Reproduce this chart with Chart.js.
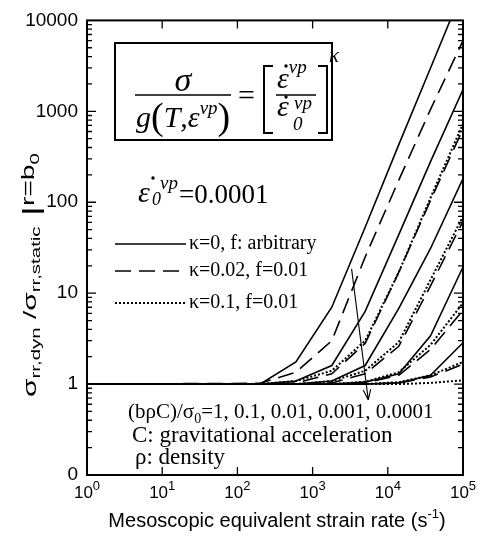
<!DOCTYPE html>
<html>
<head>
<meta charset="utf-8">
<script src="https://cdn.jsdelivr.net/npm/chart.js@4.4.1/dist/chart.umd.min.js"></script>
<style>
  html, body { margin: 0; padding: 0; background: #fff; }
  #c { display: block; }
</style>
</head>
<body>
<canvas id="c" width="481" height="537"></canvas>
<script>
// strain rates (s-1) where the curves were sampled
const strainRates = [1, 200, 600, 1800, 5000, 14000, 37000, 100000];

// kappa = 0, f arbitrary (solid), one per (b rho C)/sigma0
const solid1 = [1, 1, 1.75, 7, 53, 430, 3000, 22000];
const solid2 = [1, 1, 1.08, 1.6, 6.3, 44, 280, 1730];
const solid3 = [1, 1, 1, 1.08, 1.6, 6.8, 31, 182];
const solid4 = [1, 1, 1, 1, 1.05, 1.3, 3.4, 19.4];
const solid5 = [1, 1, 1, 1, 1, 1.03, 1.25, 2.85];

// kappa = 0.02, f = 0.01 (dashed)
const dashed1 = [1, 1.02, 1.35, 3.0, 25, 175, 1050, 6000];
const dashed2 = [1, 1, 1.03, 1.3, 2.8, 17, 105, 640];
const dashed3 = [1, 1, 1, 1.03, 1.3, 2.6, 12, 62];
const dashed4 = [1, 1, 1, 1, 1.03, 1.25, 2.4, 6.5];
const dashed5 = [1, 1, 1, 1, 1, 1.03, 1.2, 1.65];

// kappa = 0.1, f = 0.01 (dotted)
const dotted1 = [1, 1, 1.08, 1.4, 3, 17, 112, 730];
const dotted2 = [1, 1, 1, 1.08, 1.4, 2.9, 14, 70];
const dotted3 = [1, 1, 1, 1, 1.06, 1.35, 2.7, 7.8];
const dotted4 = [1, 1, 1, 1, 1, 1.05, 1.25, 1.75];
const dotted5 = [1, 1, 1, 1, 1, 1, 1.03, 1.1];

const yTickValues = [0.1, 1, 10, 100, 1000, 10000];
const yTickLabels = ['0', '1', '10', '100', '1000', '10000'];
const xTickExponents = [0, 1, 2, 3, 4, 5];
const groundRatios = ['1', '0.1', '0.01', '0.001', '0.0001'];

// arrow through the curves, (rate, ratio)
const arrowFrom = [3300, 18.5];
const arrowTo = [5500, 0.67];

const SERIF = '"Liberation Serif", "DejaVu Serif", serif';
const SANS = '"Liberation Sans", Arial, sans-serif';
const DASH = [16, 8];
const DOT = [2, 2];

function line(values, dash, width) {
  return {
    data: strainRates.map((x, i) => ({ x: x, y: values[i] })),
    borderColor: '#000',
    borderWidth: width,
    borderDash: dash,
    pointRadius: 0,
    tension: 0,
    fill: false
  };
}

const datasets = [
  ...[solid1, solid2, solid3, solid4, solid5].map(v => line(v, [], 1.6)),
  ...[dashed1, dashed2, dashed3, dashed4, dashed5].map(v => line(v, DASH, 1.6)),
  ...[dotted1, dotted2, dotted3, dotted4, dotted5].map(v => line(v, DOT, 2))
];

// draw a run of [text, font, dy] pieces starting at x
function runs(ctx, parts, x, y) {
  parts.forEach(p => {
    ctx.font = p[1];
    ctx.fillText(p[0], x, y + (p[2] || 0));
    x += ctx.measureText(p[0]).width;
  });
  return x;
}

function dot(ctx, x, y) {
  ctx.beginPath();
  ctx.arc(x, y, 1.7, 0, Math.PI * 2);
  ctx.fill();
}

const decor = {
  id: 'decor',
  afterDatasetsDraw(chart) {
    const ctx = chart.ctx;
    const a = chart.chartArea;
    const xs = chart.scales.x, ys = chart.scales.y;
    ctx.save();
    ctx.strokeStyle = '#000';
    ctx.fillStyle = '#000';
    ctx.setLineDash([]);

    // frame
    ctx.lineWidth = 2;
    ctx.strokeRect(a.left, a.top, a.right - a.left, a.bottom - a.top);

    // inward ticks
    ctx.lineWidth = 1.3;
    ctx.beginPath();
    for (let d = 0.1; d < 10000; d *= 10) {
      for (let m = 1; m <= 9; m++) {
        const y = ys.getPixelForValue(d * m);
        const len = m === 1 ? 9 : 5;
        ctx.moveTo(a.left, y); ctx.lineTo(a.left + len, y);
        ctx.moveTo(a.right, y); ctx.lineTo(a.right - len, y);
      }
    }
    xTickExponents.forEach(e => {
      const x = xs.getPixelForValue(Math.pow(10, e));
      ctx.moveTo(x, a.bottom); ctx.lineTo(x, a.bottom - 8);
      ctx.moveTo(x, a.top); ctx.lineTo(x, a.top + 8);
    });
    ctx.stroke();

    // x tick labels 10^n
    ctx.textBaseline = 'alphabetic';
    xTickExponents.forEach(e => {
      const x = xs.getPixelForValue(Math.pow(10, e));
      ctx.font = '17px ' + SANS;
      const w1 = ctx.measureText('10').width;
      ctx.font = '13px ' + SANS;
      const w2 = ctx.measureText(String(e)).width;
      runs(ctx, [['10', '17px ' + SANS, 0], [String(e), '13px ' + SANS, -8]], x - (w1 + w2) / 2, 498);
    });

    // x axis title
    ctx.font = '20px ' + SANS;
    const t1 = 'Mesoscopic equivalent strain rate (s';
    const wA = ctx.measureText(t1).width;
    ctx.font = '13px ' + SANS;
    const wB = ctx.measureText('-1').width;
    ctx.font = '20px ' + SANS;
    const wC = ctx.measureText(')').width;
    runs(ctx, [[t1, '20px ' + SANS, 0], ['-1', '13px ' + SANS, -9], [')', '20px ' + SANS, 0]],
      277 - (wA + wB + wC) / 2, 527);

    // y axis title, rotated and stretched to the reference length
    const yParts = [
      ['\u03c3', '19px ' + SANS, 0], ['rr,dyn', '13px ' + SANS, 4],
      [' /', '19px ' + SANS, 0], ['\u03c3', '19px ' + SANS, 0], ['rr,static', '13px ' + SANS, 4],
      [' |', '24px ' + SANS, 3], ['r=b', '18px ' + SANS, -2], ['0', '13px ' + SANS, 3]
    ];
    let tw = 0;
    yParts.forEach(p => { ctx.font = p[1]; tw += ctx.measureText(p[0]).width; });
    ctx.save();
    ctx.translate(36, 275);
    ctx.rotate(-Math.PI / 2);
    ctx.scale(244 / tw, 1);
    runs(ctx, yParts, -tw / 2, 0);
    ctx.restore();

    // formula box
    ctx.lineWidth = 2;
    ctx.strokeRect(115, 43, 217, 97);
    ctx.textAlign = 'center';
    ctx.font = 'italic 34px ' + SERIF;
    ctx.fillText('\u03c3', 183, 91);
    ctx.textAlign = 'left';
    ctx.lineWidth = 1.5;
    ctx.beginPath();
    ctx.moveTo(135, 95); ctx.lineTo(231, 95);
    ctx.moveTo(276, 95); ctx.lineTo(316, 95);
    ctx.stroke();
    runs(ctx, [
      ['g', 'italic 30px ' + SERIF, 0], ['(', '38px ' + SERIF, 2], ['T', 'italic 30px ' + SERIF, 0],
      [',', '30px ' + SERIF, 0], ['\u03b5', 'italic 30px ' + SERIF, 0], ['vp', 'italic 19px ' + SERIF, -13],
      [')', '38px ' + SERIF, 2]
    ], 136, 127);
    ctx.font = '30px ' + SERIF;
    ctx.fillText('=', 238, 105);
    ctx.lineWidth = 2;
    ctx.beginPath();
    ctx.moveTo(273, 66); ctx.lineTo(264, 66); ctx.lineTo(264, 133); ctx.lineTo(273, 133);
    ctx.moveTo(318, 66); ctx.lineTo(327, 66); ctx.lineTo(327, 133); ctx.lineTo(318, 133);
    ctx.stroke();
    runs(ctx, [['\u03b5', 'italic 30px ' + SERIF, 0], ['vp', 'italic 19px ' + SERIF, -15]], 277, 88);
    dot(ctx, 286, 66);
    ctx.font = 'italic 30px ' + SERIF;
    ctx.fillText('\u03b5', 277, 116);
    dot(ctx, 286, 97);
    ctx.font = 'italic 19px ' + SERIF;
    ctx.fillText('vp', 294, 109);
    ctx.fillText('0', 293, 130);
    ctx.font = 'italic 21px ' + SERIF;
    ctx.fillText('\u03ba', 329, 62);

    // reference rate
    ctx.font = 'italic 30px ' + SERIF;
    ctx.fillText('\u03b5', 138, 202);
    dot(ctx, 153, 178);
    ctx.font = 'italic 18px ' + SERIF;
    ctx.fillText('0', 152, 205);
    ctx.font = 'italic 19px ' + SERIF;
    ctx.fillText('vp', 160, 189);
    ctx.font = '27px ' + SERIF;
    ctx.fillText('=0.0001', 179, 203);

    // legend
    const legend = [
      [[], 1.6, '\u03ba=0, f: arbitrary', 244],
      [DASH, 1.6, '\u03ba=0.02, f=0.01', 271],
      [DOT, 2, '\u03ba=0.1, f=0.01', 303]
    ];
    ctx.font = '20px ' + SERIF;
    ctx.textBaseline = 'middle';
    legend.forEach(l => {
      ctx.setLineDash(l[0]);
      ctx.lineWidth = l[1];
      ctx.beginPath();
      ctx.moveTo(115, l[3]); ctx.lineTo(186, l[3]);
      ctx.stroke();
      ctx.fillText(l[2], 189, l[3]);
    });
    ctx.setLineDash([]);
    ctx.textBaseline = 'alphabetic';

    // bottom notes
    runs(ctx, [
      ['(b\u03c1C)/\u03c3', '21px ' + SERIF, 0], ['0', '14px ' + SERIF, 5],
      ['=' + groundRatios.join(', '), '21px ' + SERIF, 0]
    ], 128, 418);
    ctx.font = '23px ' + SERIF;
    ctx.fillText('C: gravitational acceleration', 132, 442);
    ctx.fillText('\u03c1: density', 135, 464);

    // arrow
    const x0 = xs.getPixelForValue(arrowFrom[0]), y0 = ys.getPixelForValue(arrowFrom[1]);
    const x1 = xs.getPixelForValue(arrowTo[0]), y1 = ys.getPixelForValue(arrowTo[1]);
    const ang = Math.atan2(y1 - y0, x1 - x0);
    ctx.lineWidth = 1.1;
    ctx.beginPath();
    ctx.moveTo(x0, y0); ctx.lineTo(x1, y1);
    ctx.moveTo(x1, y1); ctx.lineTo(x1 - 11 * Math.cos(ang - 0.35), y1 - 11 * Math.sin(ang - 0.35));
    ctx.moveTo(x1, y1); ctx.lineTo(x1 - 11 * Math.cos(ang + 0.35), y1 - 11 * Math.sin(ang + 0.35));
    ctx.stroke();
    ctx.restore();
  }
};

new Chart(document.getElementById('c'), {
  type: 'line',
  data: { datasets: datasets },
  options: {
    responsive: false,
    animation: false,
    devicePixelRatio: 1,
    layout: { padding: { top: 13, right: 18, left: 0, bottom: 0 } },
    plugins: { legend: { display: false }, tooltip: { enabled: false } },
    scales: {
      x: {
        type: 'logarithmic', min: 1, max: 100000,
        grid: { display: false }, border: { display: false },
        ticks: { display: false },
        afterFit(s) { s.height = 62; }
      },
      y: {
        type: 'logarithmic', min: 0.1, max: 10000,
        grid: { display: false, drawTicks: false }, border: { display: false },
        afterBuildTicks(s) { s.ticks = yTickValues.map(v => ({ value: v })); },
        ticks: {
          color: '#000', padding: 9,
          font: { family: 'Liberation Sans', size: 19 },
          callback: (v, i) => yTickLabels[i]
        },
        afterFit(s) { s.width = 87; }
      }
    }
  },
  plugins: [decor]
});
</script>
</body>
</html>
